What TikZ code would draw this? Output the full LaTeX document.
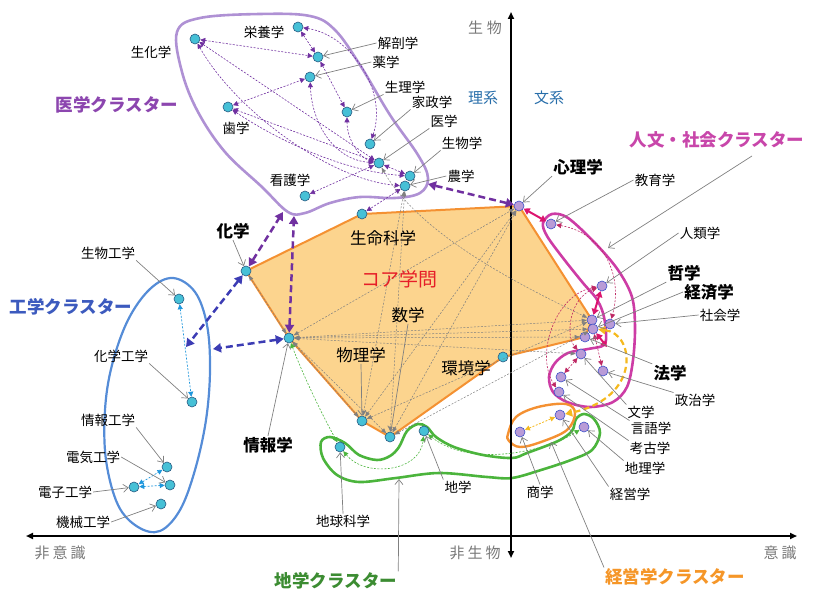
\documentclass[tikz,border=0pt]{standalone}
\usepackage{fontspec}
\setmainfont{Noto Sans CJK JP}
\usetikzlibrary{arrows.meta,calc}
\pgfdeclarelayer{bg}
\pgfsetlayers{bg,main}
\definecolor{ncyan}{RGB}{70,192,214}
\definecolor{nedge}{RGB}{40,90,130}
\definecolor{npurp}{RGB}{185,155,215}
\definecolor{nblue}{RGB}{60,80,200}
\definecolor{medout}{RGB}{175,145,212}
\definecolor{medarr}{RGB}{112,48,160}
\definecolor{pinkout}{RGB}{205,60,165}
\definecolor{magarr}{RGB}{220,20,110}
\definecolor{pkdash}{RGB}{190,40,100}
\definecolor{coref}{RGB}{252,212,142}
\definecolor{coreo}{RGB}{244,145,50}
\definecolor{grn}{RGB}{75,180,60}
\definecolor{engout}{RGB}{85,140,215}
\definecolor{engarr}{RGB}{30,150,220}
\definecolor{thickblue}{RGB}{60,60,180}
\definecolor{yel}{RGB}{245,185,30}
\definecolor{ptrgray}{RGB}{128,128,128}
\definecolor{axgray}{RGB}{120,120,120}
\definecolor{kblue}{RGB}{40,110,170}
\definecolor{cmed}{RGB}{140,70,175}
\definecolor{cjin}{RGB}{200,70,170}
\definecolor{ceng}{RGB}{60,90,190}
\definecolor{cchi}{RGB}{60,140,50}
\definecolor{ckei}{RGB}{245,150,40}
\definecolor{ccore}{RGB}{230,30,40}
\begin{document}
\begin{tikzpicture}[x=1pt,y=-1pt,
 cnode/.style={circle,fill=ncyan,draw=nedge,line width=0.6pt,minimum size=10pt,inner sep=0pt},
 pnode/.style={circle,fill=npurp,draw=nblue,line width=0.6pt,minimum size=10pt,inner sep=0pt},
 lab/.style={font=\fontsize{13.5}{15}\selectfont,inner sep=1pt},
 mlab/.style={font=\fontsize{16.5}{18}\selectfont,inner sep=1pt},
 blab/.style={font=\fontsize{16.5}{18}\selectfont\bfseries,inner sep=1pt},
 clab/.style={font=\fontsize{17.5}{19}\selectfont\bfseries,inner sep=1pt},
 axlab/.style={font=\fontsize{15}{16}\selectfont,text=axgray,inner sep=1pt},
 ptr/.style={draw=ptrgray,line width=0.7pt,-{Straight Barb[length=5pt,width=8pt]}},
 marr/.style={draw=medarr,line width=0.6pt,dash pattern=on 2pt off 1.5pt,{Triangle[length=5pt,width=5pt]}-{Triangle[length=5pt,width=5pt]}},
 garr/.style={draw=gray,line width=0.5pt,dash pattern=on 2pt off 1.5pt,{Triangle[length=5pt,width=4pt]}-{Triangle[length=5pt,width=4pt]}},
 tparr/.style={draw=medarr,line width=2.5pt,dash pattern=on 7pt off 4pt,{Triangle[length=8pt,width=9pt]}-{Triangle[length=8pt,width=9pt]}},
 tbarr/.style={draw=thickblue,line width=2.5pt,dash pattern=on 7pt off 4pt,{Triangle[length=8pt,width=9pt]}-{Triangle[length=8pt,width=9pt]}},
 earr/.style={draw=engarr,line width=0.7pt,dash pattern=on 2pt off 1.5pt,{Triangle[length=5pt,width=5pt]}-{Triangle[length=5pt,width=5pt]}},
 pkarr/.style={draw=pkdash,line width=0.6pt,dash pattern=on 2pt off 1.5pt,{Triangle[length=5pt,width=5pt]}-{Triangle[length=5pt,width=5pt]}},
 mgarr/.style={draw=magarr,line width=2pt,{Triangle[length=6pt,width=7pt]}-{Triangle[length=6pt,width=7pt]}},
 yarr/.style={draw=yel,line width=2.2pt,dash pattern=on 6pt off 3.5pt,{Triangle[length=7pt,width=8pt]}-{Triangle[length=7pt,width=8pt]}},
 ysarr/.style={draw=yel,line width=0.8pt,dash pattern=on 2pt off 1.5pt,{Triangle[length=5pt,width=5pt]}-{Triangle[length=5pt,width=5pt]}},
 grarr/.style={draw=grn,line width=0.6pt,dash pattern=on 2pt off 1.5pt,{Triangle[length=5pt,width=5pt]}-{Triangle[length=5pt,width=5pt]}},
 axis/.style={draw=black,line width=2pt,-{Triangle[length=7pt,width=6pt]}}
]
\useasboundingbox (0,0) rectangle (814,591);

% ---------- axes ----------
\coordinate (axc) at (511,536);
\coordinate (axl) at (26,536);
\coordinate (axr) at (797,536);
\coordinate (axt) at (511,12);
\coordinate (axb) at (511,558);
\draw[axis] (axc) -- (axl);
\draw[axis] (axc) -- (axr);
\draw[axis] (axc) -- (axt);
\draw[axis] (axc) -- (axb);
\node[axlab] (t-seibutsu) at (485,28) {生\hspace{4pt}物};
\node[axlab] (t-hiseibutsu) at (475,553) {非\hspace{3pt}生\hspace{3pt}物};
\node[axlab] (t-hiishiki) at (60,553) {非\hspace{3pt}意\hspace{3pt}識};
\node[axlab] (t-ishiki) at (780,553) {意\hspace{3pt}識};
\node[axlab,text=kblue] (t-rikei) at (483,98) {理系};
\node[axlab,text=kblue] (t-bunkei) at (549,98) {文系};

% ---------- nodes ----------
\node[cnode] (seika) at (195,39) {};
\node[cnode] (eiyo) at (298,27) {};
\node[cnode] (kaibo) at (318,57) {};
\node[cnode] (yaku) at (310,77) {};
\node[cnode] (shi) at (228,107) {};
\node[cnode] (seiri) at (347,112) {};
\node[cnode] (kasei) at (370,144) {};
\node[cnode] (igaku) at (379,163) {};
\node[cnode] (seibutsu) at (410,176) {};
\node[cnode] (nou) at (405,186) {};
\node[cnode] (kango) at (305,196) {};
\node[cnode] (seimei) at (362,214) {};
\node[cnode] (kagaku) at (246,271) {};
\node[cnode] (joho) at (289,338) {};
\node[cnode] (butsuri) at (362,421) {};
\node[cnode] (sugaku) at (390,437) {};
\node[cnode] (kankyo) at (503,357) {};
\node[pnode] (shinri) at (519,206) {};
\node[pnode] (kyoiku) at (551,224) {};
\node[pnode] (jinrui) at (602,286) {};
\node[pnode] (tetsu) at (592,320) {};
\node[pnode] (shakai) at (610,324) {};
\node[pnode] (keizai) at (593,329) {};
\node[pnode] (hou) at (585,337) {};
\node[pnode] (bun) at (581,354) {};
\node[pnode] (seiji) at (603,371) {};
\node[pnode] (gengo) at (561,377) {};
\node[pnode] (kouko) at (559,392) {};
\node[pnode] (keiei) at (560,415) {};
\node[pnode] (shou) at (520,432) {};
\node[pnode] (chiri) at (584,427) {};
\node[cnode] (chikyu) at (340,447) {};
\node[cnode] (chigaku) at (424,431) {};
\node[cnode] (seiko) at (179,299) {};
\node[cnode] (kako) at (192,402) {};
\node[cnode] (jouko) at (167,467) {};
\node[cnode] (denki) at (170,485) {};
\node[cnode] (denshi) at (134,487) {};
\node[cnode] (kikai) at (161,504) {};

% ---------- background shapes ----------
\begin{pgfonlayer}{bg}
\filldraw[fill=coref,draw=coreo,line width=2pt,line join=round]
  (kagaku.center) -- (seimei.center) -- (shinri.center) -- (tetsu.center) -- (hou.center)
  -- (kankyo.center) -- (sugaku.center) -- (butsuri.center) -- (joho.center) -- cycle;
\draw[medout,line width=2.6pt] plot[smooth cycle,tension=0.6] coordinates
  {(177,32) (200,18) (260,14) (310,16) (335,30) (360,65) (390,115) (418,155) (428,178) (420,193) (395,198) (360,197) (330,203) (305,213) (288,212) (262,187) (225,152) (198,112) (182,72)};
\draw[pinkout,line width=2.6pt] plot[smooth cycle,tension=0.55] coordinates
  {(543,223) (552,214) (568,218) (595,243) (618,270) (632,297) (635,327) (633,360) (627,387) (613,402) (590,407) (567,402) (553,392) (549,377) (555,363) (568,353) (588,349) (604,345) (606,332) (603,313) (596,298) (583,283) (563,258) (547,236)};
\draw[grn,line width=2.6pt] plot[smooth cycle,tension=0.55] coordinates
  {(321,442) (323,458) (337,475) (359,482) (396,478) (439,473) (487,477) (512,478) (541,470) (571,460) (592,450) (600,433) (594,419) (584,414) (576,419) (572,431) (558,441) (527,453) (512,458) (483,455) (454,447) (436,437) (427,427) (418,424) (407,431) (399,447) (390,456) (377,460) (359,455) (345,443) (330,437)};
\draw[coreo,line width=2.4pt] plot[smooth cycle,tension=0.6] coordinates
  {(508,434) (516,417) (538,407) (566,404) (575,413) (567,430) (541,442) (520,447) (509,441)};
\draw[engout,line width=2.2pt] plot[smooth cycle,tension=0.6] coordinates
  {(173,278) (195,292) (207,325) (210,370) (206,420) (195,470) (180,510) (160,531) (138,527) (118,505) (106,460) (105,410) (112,365) (128,320) (150,289)};
\end{pgfonlayer}

% ---------- medical cluster arrows ----------
\draw[marr] (seika) -- (kaibo);
\draw[marr] (seika) -- (igaku);
\draw[marr] (seika) .. controls (235,110) and (330,180) .. (nou);
\draw[marr] (shi) -- (yaku);
\draw[marr] (shi) -- (igaku);
\draw[marr] (shi) .. controls (285,145) and (350,172) .. (seibutsu);
\draw[marr] (eiyo) -- (kaibo);
\draw[marr] (eiyo) .. controls (350,35) and (388,90) .. (kasei);
\draw[marr] (kaibo) -- (seiri);
\draw[marr] (yaku) .. controls (312,125) and (335,160) .. (igaku);
\draw[marr] (seiri) .. controls (347,140) and (360,158) .. (igaku);
\draw[marr] (igaku) -- (seibutsu);
\draw[marr] (igaku) -- (kango);
\draw[marr] (nou) -- (seimei);

% ---------- core gray links ----------
\draw[garr] (joho) -- (shinri);
\draw[garr] (joho) -- (tetsu);
\draw[garr] (joho) -- (keizai);
\draw[garr] (joho) -- (hou);
\draw[garr] (joho) -- (bun);
\draw[garr] (joho) -- (butsuri);
\draw[garr] (joho) -- (sugaku);
\draw[garr] (joho) -- (kagaku);
\draw[garr] (butsuri) -- (shinri);
\draw[garr] (sugaku) -- (shinri);
\draw[garr] (butsuri) -- (tetsu);
\draw[garr] (sugaku) -- (keizai);
\draw[garr] (nou) -- (butsuri);
\draw[garr] (nou) -- (sugaku);
\draw[garr] (igaku) .. controls (420,235) and (520,285) .. (tetsu);

% ---------- thick cluster links ----------
\coordinate (medbl1) at (283,212);
\coordinate (medbl2) at (294,216);
\coordinate (medr) at (428,184);
\coordinate (engin) at (186,347);
\coordinate (engr) at (213,349);
\draw[tparr] (kagaku) -- (medbl1);
\draw[tparr] (joho) -- (medbl2);
\draw[tparr] (shinri) -- (medr);
\draw[tbarr] (kagaku) -- (engin);
\draw[tbarr] (joho) -- (engr);

% ---------- engineering arrows ----------
\draw[earr] (seiko) -- (kako);
\draw[earr] (denshi) -- (jouko);
\draw[earr] (denshi) -- (denki);

% ---------- humanities arrows ----------
\coordinate (pkin) at (607,347);
\draw[mgarr] (shinri) -- (kyoiku);
\draw[mgarr] (tetsu) -- (jinrui);
\draw[mgarr] (keizai) -- (pkin);
\draw[pkarr] (kyoiku) .. controls (600,232) and (624,272) .. (shakai);
\draw[pkarr] (jinrui) .. controls (555,295) and (535,355) .. (kouko);
\draw[pkarr] (jinrui) .. controls (570,298) and (565,335) .. (bun);
\draw[pkarr] (bun) -- (gengo);
\draw[pkarr] (keizai) -- (seiji);
\draw[yarr] (keizai) .. controls (635,333) and (642,398) .. (keiei);
\draw[ysarr] (shou) -- (keiei);

% ---------- earth arrows ----------
\draw[grarr] (chikyu) .. controls (365,478) and (420,472) .. (chigaku);
\draw[grarr] (chigaku) .. controls (470,468) and (545,452) .. (chiri);
\draw[grarr] (joho) .. controls (305,380) and (325,420) .. (chikyu);

% ---------- labels ----------
\node[lab] (l-seika) at (151,52) {生化学};
\node[lab] (l-eiyo) at (264,32) {栄養学};
\node[lab] (l-kaibo) at (398,43) {解剖学};
\node[lab] (l-yaku) at (386,62) {薬学};
\node[lab] (l-seiri) at (405,87) {生理学};
\node[lab] (l-kasei) at (432,102) {家政学};
\node[lab] (l-igaku) at (444,121) {医学};
\node[lab] (l-seibutsu) at (462,143) {生物学};
\node[lab] (l-nou) at (461,176) {農学};
\node[lab] (l-shi) at (236,128) {歯学};
\node[lab] (l-kango) at (290,180) {看護学};
\node[mlab] (l-seimei) at (383,238) {生命科学};
\node[clab,text=cmed] (l-medc) at (117,105) {医学クラスター};

\node[blab] (l-kagaku) at (233,231) {化学};
\node[font=\fontsize{19}{21}\selectfont,text=ccore,inner sep=1pt] (l-core) at (399,279) {コア学問};
\node[mlab] (l-sugaku) at (408,315) {数学};
\node[mlab] (l-butsuri) at (361,355) {物理学};
\node[mlab] (l-kankyo) at (466,368) {環境学};
\node[blab] (l-joho) at (268,445) {情報学};

\node[clab,text=cjin] (l-jinc) at (717,140) {人文・社会クラスター};
\node[blab] (l-shinri) at (578,167) {心理学};
\node[lab] (l-kyoiku) at (655,180) {教育学};
\node[lab] (l-jinrui) at (700,233) {人類学};
\node[blab] (l-tetsu) at (684,273) {哲学};
\node[blab] (l-keizai) at (709,292) {経済学};
\node[lab] (l-shakai) at (720,315) {社会学};
\node[blab] (l-hou) at (670,373) {法学};
\node[lab] (l-seiji) at (695,400) {政治学};
\node[lab] (l-bun) at (641,412) {文学};
\node[lab] (l-gengo) at (651,428) {言語学};
\node[lab] (l-kouko) at (650,448) {考古学};
\node[lab] (l-chiri) at (645,468) {地理学};
\node[lab] (l-shou) at (540,492) {商学};
\node[lab] (l-keiei) at (630,494) {経営学};
\node[lab] (l-chigaku) at (458,487) {地学};
\node[lab] (l-chikyu) at (343,521) {地球科学};
\node[clab,text=cchi] (l-chic) at (336,581) {地学クラスター};
\node[clab,text=ckei] (l-keic) at (675,577) {経営学クラスター};

\node[lab] (l-seiko) at (108,253) {生物工学};
\node[lab] (l-kako) at (121,356) {化学工学};
\node[lab] (l-jouko) at (108,420) {情報工学};
\node[lab] (l-denki) at (93,457) {電気工学};
\node[lab] (l-denshi) at (65,492) {電子工学};
\node[lab] (l-kikai) at (83,522) {機械工学};
\node[clab,text=ceng] (l-engc) at (71,307) {工学クラスター};

% ---------- pointers ----------
\draw[ptr] (l-kaibo.west) -- (kaibo);
\draw[ptr] (l-yaku.west) -- (yaku);
\draw[ptr] (l-seiri.south west) -- (seiri);
\draw[ptr] (l-kasei.south west) -- (kasei);
\draw[ptr] (l-igaku.south west) -- (igaku);
\draw[ptr] (l-seibutsu.south west) -- (seibutsu);
\draw[ptr] (l-nou.west) -- (nou);
\draw[ptr] (l-kagaku.south) -- (kagaku);
\draw[ptr] (l-sugaku.south) -- (sugaku);
\draw[ptr] (l-butsuri.south) -- (butsuri);
\draw[ptr] (l-joho.north) -- (joho);
\draw[ptr] (l-shinri.south west) -- (shinri);
\draw[ptr] (l-kyoiku.west) -- (kyoiku);
\coordinate (jinptr) at (752,156);
\coordinate (jintip) at (608,248);
\draw[ptr] (jinptr) -- (jintip);
\draw[ptr] (l-jinrui.west) -- (jinrui);
\draw[ptr] (l-tetsu.south west) -- (tetsu);
\draw[ptr] (l-keizai.west) -- (keizai);
\draw[ptr] (l-shakai.west) -- (shakai);
\draw[ptr] (l-hou.north west) -- (hou);
\draw[ptr] (l-seiji.north west) -- (seiji);
\draw[ptr] (l-bun.north west) -- (bun);
\draw[ptr] (l-gengo.north west) -- (gengo);
\draw[ptr] (l-kouko.north west) -- (kouko);
\draw[ptr] (l-chiri.north west) -- (chiri);
\draw[ptr] (l-keiei.north west) -- (keiei);
\draw[ptr] (l-shou.north) -- (shou);
\coordinate (keitip) at (551,442);
\draw[ptr] (l-keic.north west) -- (keitip);
\draw[ptr] (l-chigaku.north west) -- (chigaku);
\draw[ptr] (l-chikyu.north) -- (chikyu);
\coordinate (chitip) at (399,479);
\draw[ptr] (l-chic.north east) -- (chitip);
\draw[ptr] (l-seiko.south east) -- (seiko);
\draw[ptr] (l-kako.south east) -- (kako);
\draw[ptr] (l-jouko.south east) -- (jouko);
\draw[ptr] (l-denki.east) -- (denki);
\draw[ptr] (l-denshi.east) -- (denshi);
\draw[ptr] (l-kikai.east) -- (kikai);
\end{tikzpicture}
\end{document}
